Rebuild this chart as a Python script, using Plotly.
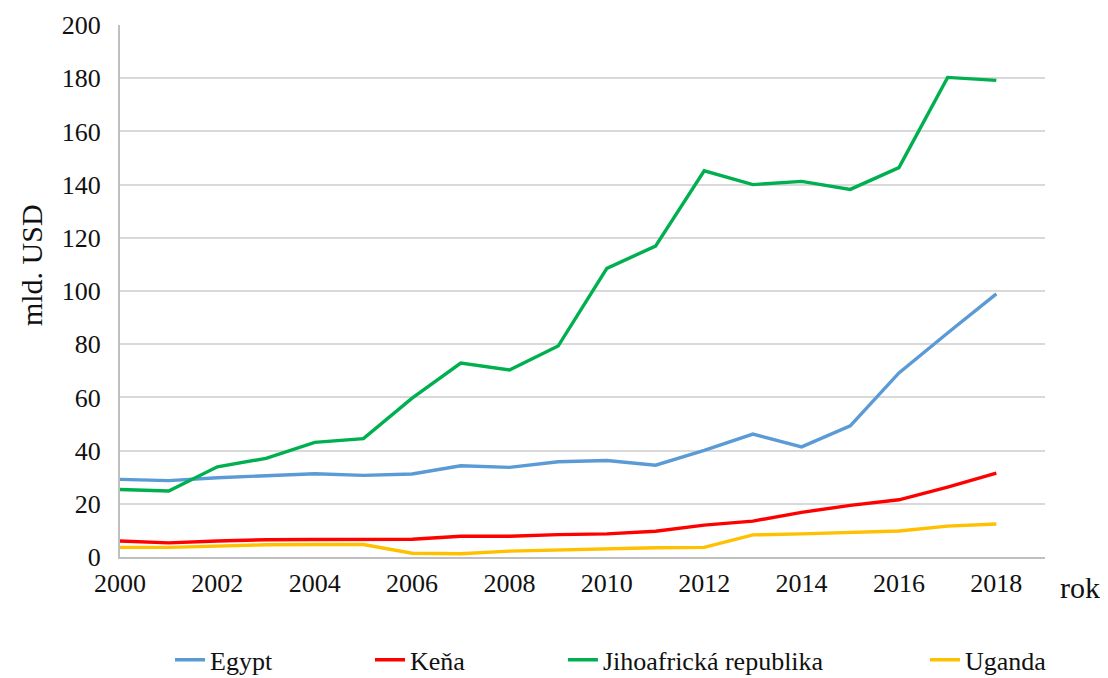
import plotly.graph_objects as go

years = list(range(2000, 2019))
egypt = [29.2, 28.7, 29.8, 30.6, 31.3, 30.7, 31.2, 34.3, 33.7, 35.8, 36.3, 34.5, 40.1, 46.2, 41.4, 49.3, 69.2, 84.2, 98.9]
kena = [6.0, 5.3, 6.0, 6.5, 6.6, 6.6, 6.7, 7.8, 7.8, 8.4, 8.7, 9.7, 12.0, 13.5, 16.8, 19.4, 21.5, 26.3, 31.5]
jar = [25.4, 24.8, 33.9, 37.1, 43.1, 44.5, 59.7, 72.9, 70.3, 79.3, 108.5, 116.9, 145.2, 140.0, 141.2, 138.2, 146.4, 180.3, 179.2]
uganda = [3.6, 3.6, 4.1, 4.6, 4.7, 4.7, 1.4, 1.2, 2.2, 2.7, 2.9, 3.5, 3.6, 8.3, 8.7, 9.2, 9.8, 11.6, 12.4]

names = ["Egypt", "Keňa", "Jihoafrická republika", "Uganda"]
series = [egypt, kena, jar, uganda]
colors = ["#5B9BD5", "#FF0000", "#00B050", "#FFC000"]
legend_ids = ["legend", "legend2", "legend3", "legend4"]
legend_x = [0.1473, 0.3291, 0.5045, 0.8336]

FONT = "Liberation Serif, Times New Roman, serif"
TXT = "#111111"

fig = go.Figure()
for name, vals, col, lid in zip(names, series, colors, legend_ids):
    fig.add_trace(go.Scatter(x=years, y=vals, mode="lines", name=name,
                             line=dict(color=col, width=3.4), legend=lid))

layout_legends = {}
for lid, lx in zip(legend_ids, legend_x):
    layout_legends[lid] = dict(orientation="h", x=lx, xanchor="left", xref="container",
                               y=0.027, yanchor="middle", yref="container",
                               font=dict(family=FONT, size=26, color=TXT),
                               bgcolor="rgba(0,0,0,0)", borderwidth=0)

fig.update_layout(
    width=1100, height=670,
    margin=dict(l=112, r=63, t=17, b=121, autoexpand=False),
    paper_bgcolor="white", plot_bgcolor="white",
    font=dict(family=FONT, size=26, color=TXT),
    showlegend=True,
    **layout_legends,
    xaxis=dict(range=[2000, 2019], tick0=2000, dtick=2, showgrid=False,
               showline=True, linecolor="#BFBFBF", linewidth=2,
               ticks="", tickfont=dict(family=FONT, size=26, color=TXT),
               ticklabelstandoff=2, zeroline=False),
    yaxis=dict(range=[0, 200], dtick=20, showgrid=True, gridcolor="#D9D9D9", gridwidth=1.5,
               showline=True, linecolor="#BFBFBF", linewidth=2, zeroline=False,
               ticks="", tickfont=dict(family=FONT, size=26, color=TXT),
               ticklabelstandoff=12),
    annotations=[
        dict(text="mld. USD", textangle=-90, x=-0.095, y=0.549, xref="paper", yref="paper",
             showarrow=False, font=dict(family=FONT, size=30, color=TXT),
             xanchor="center", yanchor="middle"),
        dict(text="rok", x=1.038, y=-0.058, xref="paper", yref="paper",
             showarrow=False, font=dict(family=FONT, size=30, color=TXT),
             xanchor="center", yanchor="middle"),
    ],
)

fig.write_html("out.html")
